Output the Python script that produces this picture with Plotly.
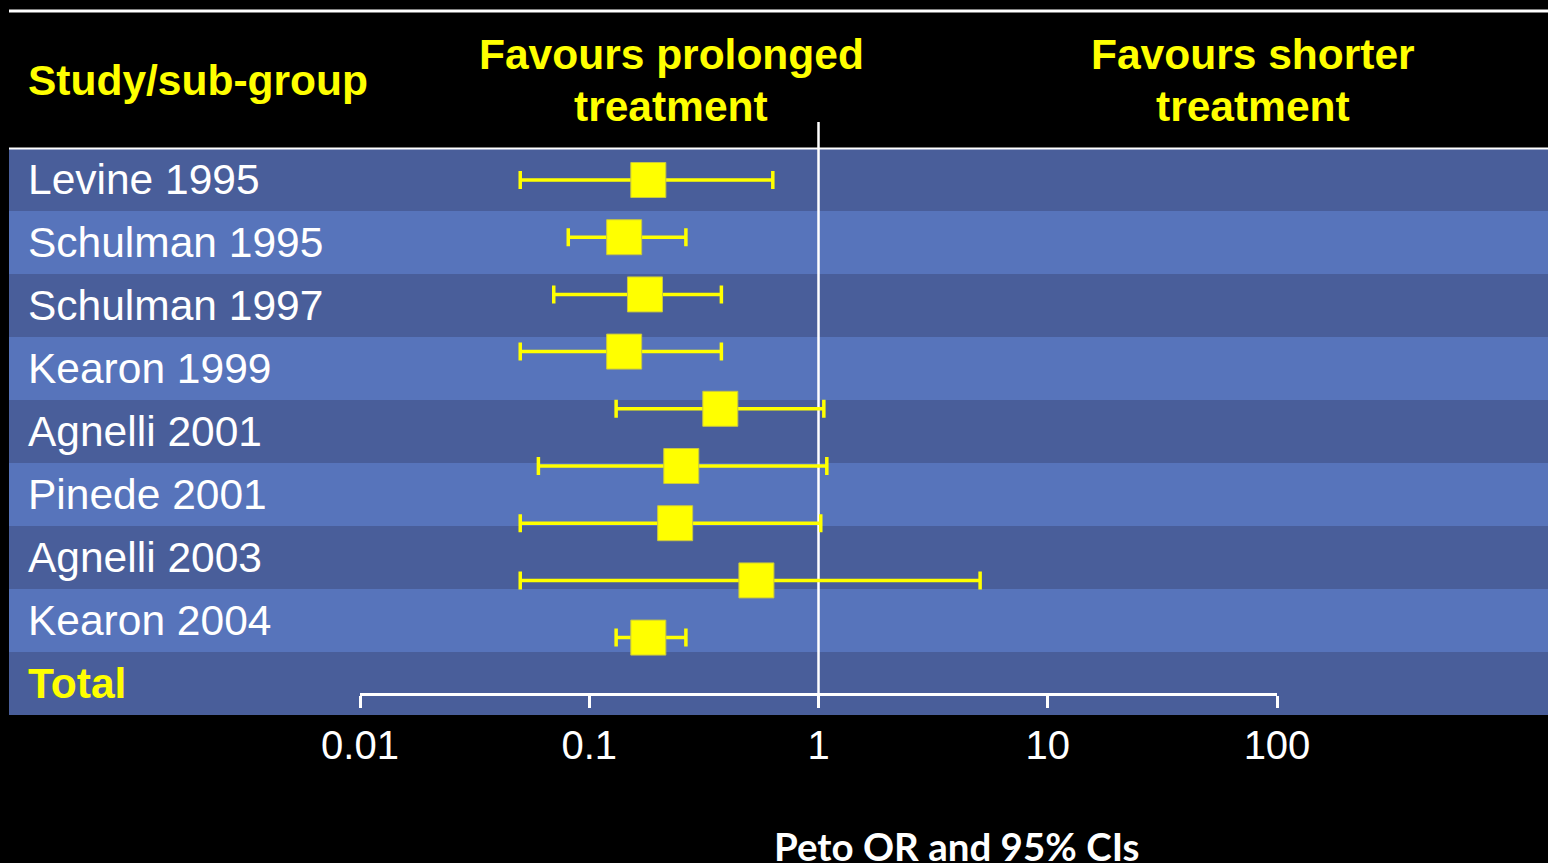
import plotly.graph_objects as go

# ---- data ----
studies = ["Levine 1995", "Schulman 1995", "Schulman 1997", "Kearon 1999",
           "Agnelli 2001", "Pinede 2001", "Agnelli 2003", "Kearon 2004", "Total"]
odds_ratio = [0.181, 0.142, 0.175, 0.142, 0.373, 0.252, 0.237, 0.536, 0.181]
ci_low = [0.050, 0.081, 0.070, 0.050, 0.131, 0.060, 0.050, 0.050, 0.131]
ci_high = [0.632, 0.264, 0.377, 0.377, 1.055, 1.087, 1.023, 5.07, 0.264]
tick_vals = [0.01, 0.1, 1, 10, 100]
tick_text = ["0.01", "0.1", "1", "10", "100"]
header_left = "Study/sub-group"
header_mid = ["Favours prolonged", "treatment"]
header_right = ["Favours shorter", "treatment"]
x_title = "Peto OR and 95% CIs"

W, H = 1548, 863
YELLOW = "#FFFF00"
DARK = "#495E9A"
LIGHT = "#5774BB"

def py(pix):  # pixel from top -> paper y
    return 1 - pix / H

def px(pix):
    return pix / W

n = len(studies)
idx = list(range(n))

# rows axis: row i centre at pixel 179.5 + 63 i ; domain pixels 122..715
top_pix, bot_pix = 122, 715
row_h = 63.0
row_c0 = 179.5
y_rng = [(bot_pix - row_c0) / row_h, (top_pix - row_c0) / row_h]
pt_h = 57.2
pt_c0 = 180.0
y2_rng = [(bot_pix - pt_c0) / pt_h, (top_pix - pt_c0) / pt_h]

fig = go.Figure()

fig.add_trace(go.Scatter(
    x=odds_ratio, y=idx, yaxis="y2", mode="markers",
    marker=dict(symbol="square", size=35, color=YELLOW,
                line=dict(color="#C8C640", width=1)),
    error_x=dict(type="data", symmetric=False,
                 array=[h - o for h, o in zip(ci_high, odds_ratio)],
                 arrayminus=[o - l for o, l in zip(odds_ratio, ci_low)],
                 color=YELLOW, thickness=3.5, width=9),
    showlegend=False, hoverinfo="skip", cliponaxis=False,
))

shapes = []
# alternating row bands
for i in idx:
    shapes.append(dict(type="rect", xref="paper", yref="y",
                       x0=px(9), x1=1, y0=i - 0.5, y1=i + 0.5,
                       fillcolor=DARK if i % 2 == 0 else LIGHT,
                       line=dict(width=0), layer="below"))
# white rules
shapes.append(dict(type="line", xref="paper", yref="paper",
                   x0=px(9), x1=1, y0=py(11), y1=py(11),
                   line=dict(color="white", width=3)))
shapes.append(dict(type="line", xref="paper", yref="paper",
                   x0=px(9), x1=1, y0=py(148.5), y1=py(148.5),
                   line=dict(color="white", width=2)))
# reference line at OR = 1
shapes.append(dict(type="line", xref="x", yref="paper",
                   x0=1, x1=1, y0=py(694), y1=py(122),
                   line=dict(color="white", width=2.5), layer="below"))

annotations = []
for i, s in enumerate(studies):
    is_total = (s == "Total")
    annotations.append(dict(
        x=px(26), xref="paper", y=i, yref="y", xanchor="left", yanchor="middle",
        text=f"<b>{s}</b>" if is_total else s, showarrow=False,
        font=dict(family="Liberation Sans, Arial", size=42.5,
                  color=YELLOW if is_total else "white")))

hdr_font = dict(family="Liberation Sans, Arial", size=42.5, color=YELLOW)
annotations.append(dict(x=px(26), y=py(80), xref="paper", yref="paper",
                        xanchor="left", yanchor="middle", showarrow=False,
                        text=f"<b>{header_left}</b>", font=hdr_font))
for cx, lines in ((671, header_mid), (1253, header_right)):
    for k, line in enumerate(lines):
        annotations.append(dict(x=px(cx), y=py(55 + 51 * k), xref="paper", yref="paper",
                                xanchor="center", yanchor="middle", showarrow=False,
                                text=f"<b>{line}</b>", font=hdr_font))
annotations.append(dict(x=px(956), y=py(846), xref="paper", yref="paper",
                        xanchor="center", yanchor="middle", showarrow=False,
                        text=f"<b>{x_title}</b>",
                        font=dict(family="Lato, Open Sans", size=38.5, color="white")))

fig.update_layout(
    template="none",
    width=W, height=H, autosize=False,
    margin=dict(l=0, r=0, t=0, b=0, pad=0),
    paper_bgcolor="black", plot_bgcolor="rgba(0,0,0,0)",
    shapes=shapes, annotations=annotations,
    xaxis=dict(type="log", range=[-2, 2], domain=[px(360), px(1277)],
               anchor="free", position=py(694), automargin=False,
               showgrid=False, zeroline=False,
               showline=True, linecolor="white", linewidth=3,
               ticks="outside", ticklen=12, tickwidth=3, tickcolor="white",
               tickvals=tick_vals, ticktext=tick_text,
               tickfont=dict(family="Liberation Sans, Arial", size=40, color="white"),
               ticklabelstandoff=3),
    yaxis=dict(range=y_rng, domain=[py(bot_pix), py(top_pix)], automargin=False,
               showgrid=False, zeroline=False, showticklabels=False, ticks="",
               showline=False, anchor="free", position=0),
    yaxis2=dict(range=y2_rng, domain=[py(bot_pix), py(top_pix)], automargin=False,
                overlaying="y", showgrid=False, zeroline=False, ticks="",
                showline=False, showticklabels=False, anchor="free", position=0),
)

fig.write_html("out.html", config={"displayModeBar": False},
               post_script="document.body.style.margin='0';document.body.style.overflow='hidden';")
